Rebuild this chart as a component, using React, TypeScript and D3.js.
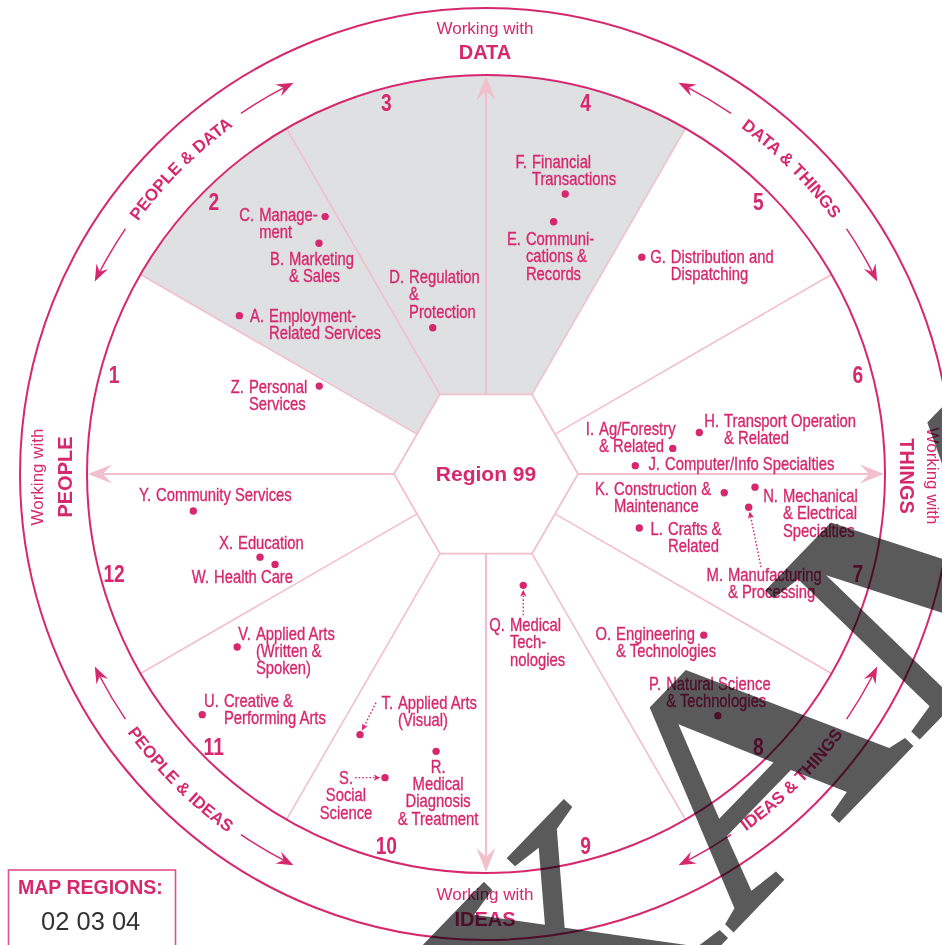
import React from 'react';
import * as d3 from 'd3';

const WIDTH = 942;
const HEIGHT = 945;

// ---------------- data ----------------
const regionNumbers = ['1', '2', '3', '4', '5', '6', '7', '8', '9', '10', '11', '12'];
const shadedRegions = [2, 3, 4];
const centerLabel = 'Region 99';
const axisPrefix = 'Working with';
const axisNames = ['DATA', 'THINGS', 'IDEAS', 'PEOPLE'];
const axisAngles = [90, 0, -90, 180];
const arcLabelTexts = ['PEOPLE & DATA', 'DATA & THINGS', 'IDEAS & THINGS', 'PEOPLE & IDEAS'];
const arcLabelAngles = [135, 45, -45, -135];
const mapRegionsTitle = 'MAP REGIONS:';
const mapRegionsValue = '02 03 04';
const watermarkText = 'EXAMPLE';

const careerLetters = ['A', 'B', 'C', 'D', 'E', 'F', 'G', 'H', 'I', 'J', 'K', 'L', 'M', 'N', 'O', 'P', 'Q', 'R', 'S', 'T', 'U', 'V', 'W', 'X', 'Y', 'Z'];
const careerNames = [
  ['Employment-', 'Related Services'],
  ['Marketing', '& Sales'],
  ['Manage-', 'ment'],
  ['Regulation', '&', 'Protection'],
  ['Communi-', 'cations &', 'Records'],
  ['Financial', 'Transactions'],
  ['Distribution and', 'Dispatching'],
  ['Transport Operation', '& Related'],
  ['Ag/Forestry', '& Related'],
  ['Computer/Info Specialties'],
  ['Construction &', 'Maintenance'],
  ['Crafts &', 'Related'],
  ['Manufacturing', '& Processing'],
  ['Mechanical', '& Electrical', 'Specialties'],
  ['Engineering', '& Technologies'],
  ['Natural Science', '& Technologies'],
  ['Medical', 'Tech-', 'nologies'],
  ['Medical', 'Diagnosis', '& Treatment'],
  ['Social', 'Science'],
  ['Applied Arts', '(Visual)'],
  ['Creative &', 'Performing Arts'],
  ['Applied Arts', '(Written &', 'Spoken)'],
  ['Health Care'],
  ['Education'],
  ['Community Services'],
  ['Personal', 'Services'],
];
// polar position of each career dot: angle (deg, counter-clockwise from east), distance (map units, rim = 399)
const careerAngles = [147.3, 125.9, 122.0, 110.0, 75.0, 74.2, 54.3, 11.0, 7.8, 3.2, -4.5, -19.4, -7.2, -2.8, -36.5, -46.2, -71.5, -100.2, -108.4, -115.8, -139.7, -145.2, -156.8, -159.8, -172.8, 152.2];
const careerRadii = [293.1, 284.8, 303.5, 155.7, 261.2, 291.0, 267.0, 217.3, 188.5, 149.5, 239.0, 162.5, 264.8, 269.3, 270.9, 335.0, 117.4, 281.8, 320.0, 289.5, 372.1, 303.0, 229.5, 240.8, 295.0, 188.5];

// ---------------- layout ----------------
const CX = 486;
const CY = 474;
const R_IN = 399;
const R_OUT = 466;
const HEX_R = 92;
const NUM_R = 385;
const ARC_R = 436;
const LINE_H = 17.3;
const SX = 0.8;

const MAGENTA = '#d6286e';
const LIGHT = '#f2bfcc';
const GRAY = '#dfe0e2';
const SANS = "'Liberation Sans', Arial, Helvetica, sans-serif";

// label anchor (body text x, first baseline) relative to the dot
const labelOffsets: Record<string, [number, number]> = {
  A: [29.7, 6.3], B: [-30, 21.7], C: [-66, 4.3], D: [-23.7, -44.7], E: [-27.7, 23.3],
  F: [-33.3, -26], G: [29, 5.7], H: [24.7, -5.7], I: [-73.7, -13.3], J: [29.7, 4.3],
  K: [-110.3, 2.3], L: [28.7, 7], M: [-20.7, 74], N: [28, 15], O: [-87.7, 4.7],
  P: [-51.7, -26], Q: [-13.3, 45.7], R: [2, 21.4], S: [-39, 6.3], T: [38, -25.7],
  U: [21.7, -7.7], V: [18.7, -7.3], W: [-61, 18.7], X: [-22, -8], Y: [-37.3, -10], Z: [-70.3, 7],
};
const centeredLabels = ['R', 'S'];
const pointerStarts: Record<string, [number, number]> = {
  M: [12.3, 60], Q: [0, 30], S: [-30, 0], T: [16, -32],
};

// watermark placement: origin of the "A" glyph on the baseline, baseline angle, size, stretch
const WM_SIZE = 328;
const WM_STRETCH = 1.12;
const WM_ANGLE = -46;
const WM_A_START: [number, number] = [731, 935];
const WM_LEAD_EM = 0.667 + 0.722; // advance of "E" + "X" in Times-metric bold

const rScale = d3.scaleLinear().domain([0, 399]).range([0, R_IN]);
const aScale = d3.scaleLinear().domain([0, 360]).range([0, 2 * Math.PI]);

function polar(deg: number, r: number): [number, number] {
  const t = aScale(deg);
  return [CX + r * Math.cos(t), CY - r * Math.sin(t)];
}

function arrowPath(tip: [number, number], dir: [number, number], len: number, half: number, notch: number) {
  const [ux, uy] = dir;
  const nx = -uy, ny = ux;
  const bx = tip[0] - ux * len, by = tip[1] - uy * len;
  const mx = tip[0] - ux * notch, my = tip[1] - uy * notch;
  return `M${tip[0]},${tip[1]} L${bx + nx * half},${by + ny * half} L${mx},${my} L${bx - nx * half},${by - ny * half} Z`;
}

function hexBoundary(deg: number) {
  const k = Math.round(deg / 30);
  return ((k % 2) + 2) % 2 === 0 ? HEX_R : HEX_R * Math.cos(Math.PI / 6);
}

export default function App() {
  const shadeArc = d3.arc<any>();
  const shadePaths = shadedRegions.map((reg) => {
    const hi = 180 - 30 * (reg - 1);
    const lo = hi - 30;
    return shadeArc({
      innerRadius: 0,
      outerRadius: R_IN,
      startAngle: aScale(90 - hi),
      endAngle: aScale(90 - lo),
    }) as string;
  });

  const hexPts = d3.range(6).map((i) => polar(i * 60, HEX_R));
  const hexPath = d3.line()(hexPts) + 'Z';

  const dividers = d3.range(12).map((k) => {
    const deg = k * 30;
    const isAxis = k % 3 === 0;
    const start = polar(deg, hexBoundary(deg));
    const end = polar(deg, R_IN - (isAxis ? 12 : 0));
    const tip = polar(deg, R_IN - 1);
    const t = aScale(deg);
    const dir: [number, number] = [Math.cos(t), -Math.sin(t)];
    return { start, end, tip, dir, isAxis };
  });

  const arcItems = arcLabelTexts.map((label, i) => {
    const c = arcLabelAngles[i];
    const top = c > 0;
    const baseR = top ? ARC_R - 6 : ARC_R + 6;
    const a0 = top ? c + 22 : c - 22;
    const a1 = top ? c - 22 : c + 22;
    const p0 = polar(a0, baseR);
    const p1 = polar(a1, baseR);
    const textPath = `M${p0[0]},${p0[1]} A${baseR},${baseR} 0 0 ${top ? 1 : 0} ${p1[0]},${p1[1]}`;
    const gap = 10.8;
    const tipA = 18.8;
    const segs = [
      { from: c + gap, to: c + tipA },
      { from: c - gap, to: c - tipA },
    ].map(({ from, to }) => {
      const inc = to > from;
      const endA = inc ? to - 1.4 : to + 1.4;
      const s = polar(from, ARC_R);
      const e = polar(endA, ARC_R);
      const sweep = inc ? 0 : 1;
      const d = `M${s[0]},${s[1]} A${ARC_R},${ARC_R} 0 0 ${sweep} ${e[0]},${e[1]}`;
      const tip = polar(to, ARC_R);
      const t = aScale(to);
      const dir: [number, number] = inc ? [-Math.sin(t), -Math.cos(t)] : [Math.sin(t), Math.cos(t)];
      return { d, head: arrowPath(tip, dir, 17, 6.5, 11) };
    });
    return { label, id: `arcp${i}`, textPath, segs };
  });

  const careers = careerLetters.map((letter, i) => {
    const [x, y] = polar(careerAngles[i], rScale(careerRadii[i]));
    const [ox, oy] = labelOffsets[letter];
    const ptr = pointerStarts[letter];
    let pointer: null | { x1: number; y1: number; x2: number; y2: number; head: string } = null;
    if (ptr) {
      const sx = x + ptr[0], sy = y + ptr[1];
      const len = Math.hypot(ptr[0], ptr[1]);
      const ux = -ptr[0] / len, uy = -ptr[1] / len;
      const tip: [number, number] = [x - ux * 4.5, y - uy * 4.5];
      pointer = { x1: sx, y1: sy, x2: tip[0] - ux * 5, y2: tip[1] - uy * 5, head: arrowPath(tip, [ux, uy], 7, 3.2, 5) };
    }
    return { letter, x, y, bx: x + ox, by: y + oy, lines: careerNames[i], centered: centeredLabels.includes(letter), pointer };
  });

  const axisLabels = axisNames.map((name, i) => ({ name, angle: axisAngles[i] }));

  const wmT = aScale(WM_ANGLE);
  const lead = WM_LEAD_EM * WM_SIZE * WM_STRETCH;
  const wmStart: [number, number] = [
    WM_A_START[0] - lead * Math.cos(wmT),
    WM_A_START[1] - lead * Math.sin(wmT),
  ];

  const labelText = { fontFamily: SANS, fontSize: 18.5, fill: MAGENTA, stroke: MAGENTA, strokeWidth: 0.35 };

  return (
    <div style={{ position: 'absolute', left: 0, top: 0, width: WIDTH, height: HEIGHT, background: '#fff' }}>
      <svg width={WIDTH} height={HEIGHT} viewBox={`0 0 ${WIDTH} ${HEIGHT}`} style={{ display: 'block' }}>
        <rect x={0} y={0} width={WIDTH} height={HEIGHT} fill="#fff" />
        <g transform={`translate(${CX},${CY})`}>
          {shadePaths.map((d, i) => (
            <path key={i} d={d} fill={GRAY} />
          ))}
        </g>
        <path d={hexPath} fill="#fff" stroke={LIGHT} strokeWidth={1.8} />
        {dividers.map((dv, i) => (
          <g key={i}>
            <line x1={dv.start[0]} y1={dv.start[1]} x2={dv.end[0]} y2={dv.end[1]} stroke={LIGHT} strokeWidth={dv.isAxis ? 2.2 : 1.6} />
            {dv.isAxis && <path d={arrowPath(dv.tip, dv.dir, 24, 9.5, 15)} fill={LIGHT} />}
          </g>
        ))}
        <circle cx={CX} cy={CY} r={R_IN} fill="none" stroke={MAGENTA} strokeWidth={2} />
        <circle cx={CX} cy={CY} r={R_OUT} fill="none" stroke={MAGENTA} strokeWidth={2} />

        <text x={CX} y={CY + 7} textAnchor="middle" fontFamily={SANS} fontWeight="bold" fontSize={21} fill={MAGENTA}>
          {centerLabel}
        </text>

        {regionNumbers.map((n, i) => {
          const [x, y] = polar(165 - 30 * i, NUM_R);
          return (
            <g key={n} transform={`translate(${x},${y + 8.5}) scale(${SX},1)`}>
              <text x={0} y={0} textAnchor="middle" fontFamily={SANS} fontWeight="bold" fontSize={24} fill={MAGENTA}>
                {n}
              </text>
            </g>
          );
        })}

        {axisLabels.map(({ name, angle }) => {
          let transform = '';
          let prefixY = 0;
          let nameY = 0;
          if (angle === 90) {
            transform = `translate(${CX - 1},${CY})`;
            prefixY = -440;
            nameY = -415;
          } else if (angle === -90) {
            transform = `translate(${CX - 1},${CY})`;
            prefixY = 426;
            nameY = 452;
          } else if (angle === 180) {
            transform = `translate(${CX},${CY + 3}) rotate(-90)`;
            prefixY = -443;
            nameY = -414;
          } else {
            transform = `translate(${CX},${CY + 2}) rotate(90)`;
            prefixY = -441;
            nameY = -414;
          }
          return (
            <g key={name} transform={transform}>
              <text x={0} y={prefixY} textAnchor="middle" fontFamily={SANS} fontSize={17} fill={MAGENTA}>
                {axisPrefix}
              </text>
              <text x={0} y={nameY} textAnchor="middle" fontFamily={SANS} fontWeight="bold" fontSize={20} fill={MAGENTA}>
                {name}
              </text>
            </g>
          );
        })}

        <defs>
          {arcItems.map((a) => (
            <path key={a.id} id={a.id} d={a.textPath} fill="none" />
          ))}
        </defs>
        {arcItems.map((a) => (
          <g key={a.id}>
            <text fontFamily={SANS} fontWeight="bold" fontSize={17} fill={MAGENTA}>
              <textPath href={`#${a.id}`} startOffset="50%" textAnchor="middle">
                {a.label}
              </textPath>
            </text>
            {a.segs.map((s, j) => (
              <g key={j}>
                <path d={s.d} fill="none" stroke={MAGENTA} strokeWidth={1.5} />
                <path d={s.head} fill={MAGENTA} />
              </g>
            ))}
          </g>
        ))}

        {careers.map((c) => (
          <g key={c.letter}>
            <circle cx={c.x} cy={c.y} r={3.7} fill={MAGENTA} />
            {c.pointer && (
              <g>
                <line x1={c.pointer.x1} y1={c.pointer.y1} x2={c.pointer.x2} y2={c.pointer.y2} stroke={MAGENTA} strokeWidth={1.4} strokeDasharray="1.6,2" />
                <path d={c.pointer.head} fill={MAGENTA} />
              </g>
            )}
            <g transform={`translate(${c.bx},${c.by}) scale(${SX},1)`}>
              {c.centered ? (
                <text {...labelText} textAnchor="middle">
                  {[c.letter + '.', ...c.lines].map((ln, k) => (
                    <tspan key={k} x={0} y={k * LINE_H}>
                      {ln}
                    </tspan>
                  ))}
                </text>
              ) : (
                <g>
                  <text x={-5 / SX} y={0} textAnchor="end" {...labelText}>
                    {c.letter + '.'}
                  </text>
                  <text {...labelText}>
                    {c.lines.map((ln, k) => (
                      <tspan key={k} x={0} y={k * LINE_H}>
                        {ln}
                      </tspan>
                    ))}
                  </text>
                </g>
              )}
            </g>
          </g>
        ))}

        <rect x={8.5} y={870} width={167} height={100} fill="#fff" stroke="#e0508a" strokeWidth={1.6} />
        <text x={18} y={894} fontFamily={SANS} fontWeight="bold" fontSize={19.5} fill={MAGENTA}>
          {mapRegionsTitle}
        </text>
        <text x={41} y={930} fontFamily={SANS} fontSize={25.5} fill="#333">
          {mapRegionsValue}
        </text>

        <text
          transform={`translate(${wmStart[0]},${wmStart[1]}) rotate(${WM_ANGLE}) scale(${WM_STRETCH},1)`}
          fontFamily="'Liberation Serif', 'Times New Roman', serif"
          fontWeight="bold"
          fontSize={WM_SIZE}
          fill="#5a5a5a"
          style={{ mixBlendMode: 'multiply' }}
        >
          {watermarkText}
        </text>
      </svg>
    </div>
  );
}
